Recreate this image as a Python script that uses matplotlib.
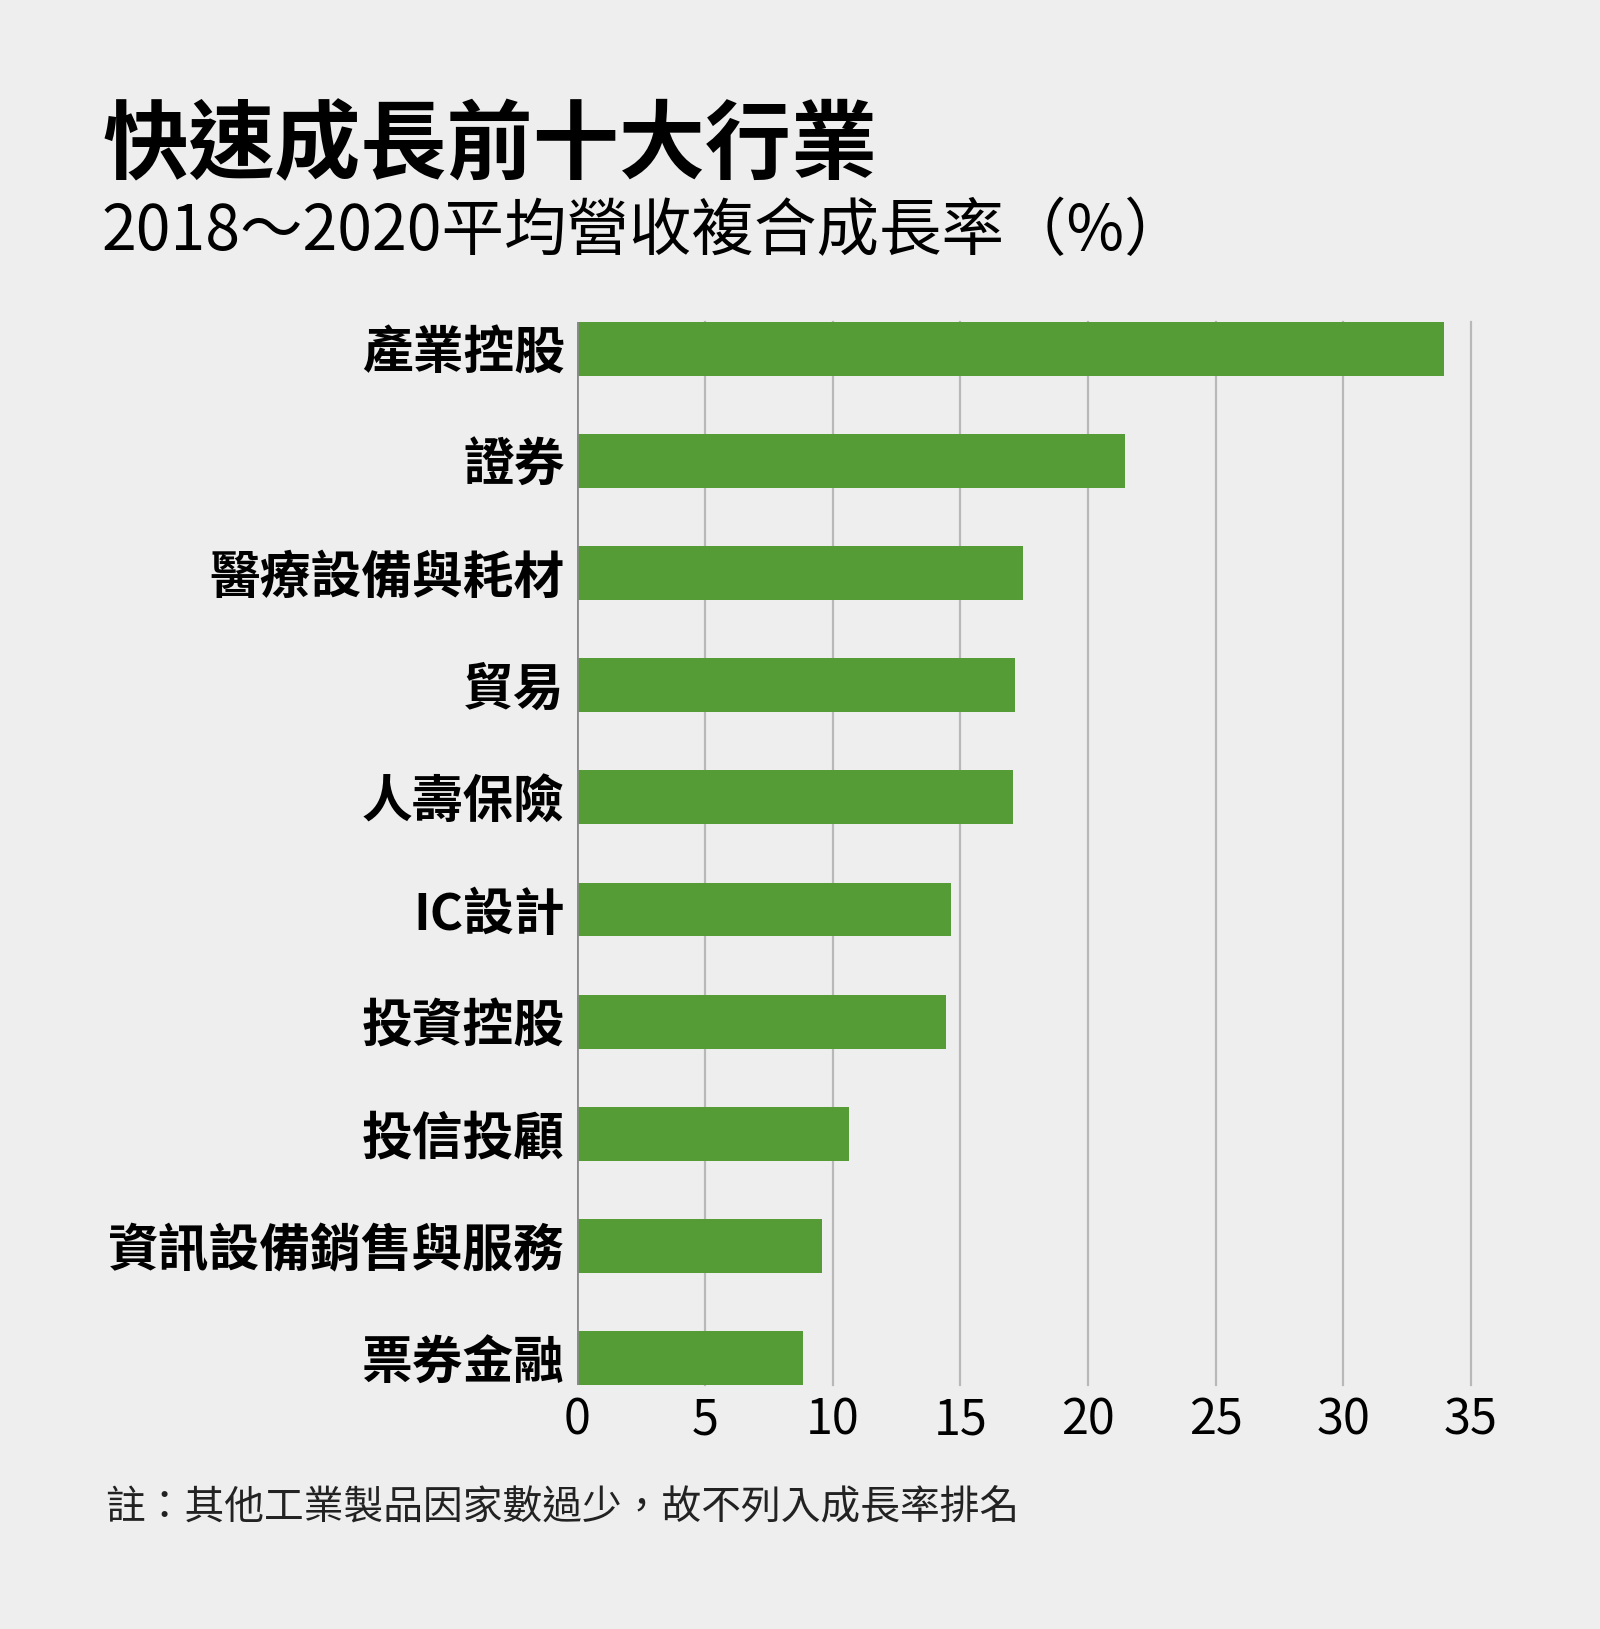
import matplotlib
matplotlib.use("Agg")
import matplotlib.pyplot as plt

plt.rcParams['font.family'] = ['Noto Sans CJK TC', 'DejaVu Sans']

# Data (2018~2020 CAGR, %)
industries = ["產業控股", "證券", "醫療設備與耗材", "貿易", "人壽保險",
              "IC設計", "投資控股", "投信投顧", "資訊設備銷售與服務", "票券金融"]
growth = [33.94, 21.44, 17.44, 17.15, 17.08, 14.63, 14.43, 10.65, 9.60, 8.83]
x_ticks = [0, 5, 10, 15, 20, 25, 30, 35]

title = "快速成長前十大行業"
subtitle = "2018～2020平均營收複合成長率（%）"
note = "註：其他工業製品因家數過少，故不列入成長率排名"

BG = "#eeeeee"
GREEN = "#559b36"
GRID = "#b8b8b8"

W, H = 1600, 1629
fig = plt.figure(figsize=(W / 100, H / 100), dpi=100, facecolor=BG)
ax = fig.add_axes([577.2 / W, 1 - 1385.2 / H, (1471 - 577.2) / W, (1385.2 - 321.7) / H])
ax.set_facecolor(BG)

pos = list(range(len(industries)))
ax.barh(pos, growth, height=0.48, color=GREEN, zorder=3)

ax.set_xlim(0, 35)
ax.set_ylim(len(industries) - 1 + 0.24, -0.24)

# vertical gridlines
for t in x_ticks[1:]:
    ax.axvline(t, color=GRID, lw=1.6, zorder=1, clip_on=False)
ax.axvline(0, color="#8a8a8a", lw=2, zorder=4)

for s in ax.spines.values():
    s.set_visible(False)

ax.set_xticks(x_ticks)
ax.set_xticklabels([str(t) for t in x_ticks], fontsize=35, color="black")
ax.set_yticks(pos)
ax.set_yticklabels(industries, fontsize=36.5, fontweight="bold", color="black")
ax.tick_params(axis="both", length=0)
ax.tick_params(axis="x", pad=8)
ax.tick_params(axis="y", pad=9)

fig.text(102 / W, 1 - 103 / H, title, fontsize=62, fontweight="bold",
         ha="left", va="top", color="black")
fig.text(102 / W, 1 - 200 / H, subtitle, fontsize=45, ha="left", va="top",
         color="black")
fig.text(105 / W, 1 - 1488 / H, note, fontsize=28.6, ha="left", va="top",
         color="#222222")

fig.savefig("out.png", dpi=100, facecolor=BG)
